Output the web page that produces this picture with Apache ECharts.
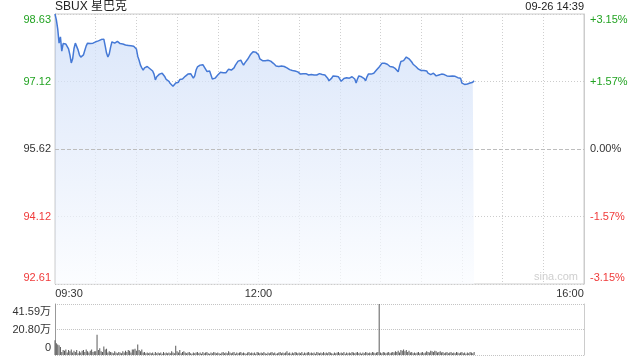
<!DOCTYPE html>
<html>
<head>
<meta charset="utf-8">
<script src="https://cdn.jsdelivr.net/npm/echarts@6/dist/echarts.min.js"></script>
<style>
html,body{margin:0;padding:0;background:#fff;}
#c{width:640px;height:360px;}
</style>
</head>
<body>
<div id="c"></div>
<script>
// ---- data ----
const stockTitle = 'SBUX 星巴克';
const stampText = '09-26 14:39';
const prevClose = 95.62;
const priceMin = 92.61;
const priceMax = 98.63;
const priceTickLabels = ['92.61', '94.12', '95.62', '97.12', '98.63'];
const pctTickLabels = ['-3.15%', '-1.57%', '0.00%', '+1.57%', '+3.15%'];
const timeTickMinutes = [0, 150, 390];
const timeTickLabels = ['09:30', '12:00', '16:00'];
const sessionMinutes = 390;
const volMax = 41.59;
const volTickLabels = ['0', '20.80万', '41.59万'];

// one value per minute from 09:30
const prices = [
 98.63, 98.50, 98.30, 97.98, 98.12, 97.80, 97.97, 97.95, 97.96, 97.94,
 97.85, 97.72, 97.54, 97.63, 97.86, 97.98, 98.01, 97.83, 97.72, 97.67,
 97.69, 97.72, 97.82, 97.92, 97.98, 97.99, 97.97, 97.96, 97.98, 97.99,
 98.01, 98.05, 98.03, 98.05, 98.06, 98.08, 98.07, 97.92, 97.76, 97.67,
 97.74, 97.89, 98.01, 98.01, 97.98, 97.97, 98.02, 97.98, 97.97, 97.99,
 97.96, 97.95, 97.94, 97.94, 97.93, 97.92, 97.92, 97.91, 97.91, 97.88,
 97.85, 97.69, 97.60, 97.49, 97.43, 97.38, 97.43, 97.45, 97.46, 97.47,
 97.41, 97.38, 97.36, 97.29, 97.16, 97.23, 97.27, 97.29, 97.31, 97.31,
 97.30, 97.23, 97.17, 97.16, 97.13, 97.08, 97.06, 97.02, 97.02, 97.09,
 97.13, 97.11, 97.17, 97.16, 97.18, 97.20, 97.24, 97.27, 97.29, 97.29,
 97.30, 97.29, 97.20, 97.25, 97.38, 97.45, 97.47, 97.49, 97.49, 97.50,
 97.46, 97.40, 97.35, 97.35, 97.36, 97.27, 97.18, 97.19, 97.20, 97.23,
 97.27, 97.31, 97.33, 97.33, 97.32, 97.32, 97.32, 97.36, 97.40, 97.41,
 97.38, 97.35, 97.43, 97.49, 97.53, 97.58, 97.62, 97.60, 97.54, 97.49,
 97.54, 97.58, 97.62, 97.67, 97.72, 97.76, 97.79, 97.76, 97.78, 97.82,
 97.72, 97.63, 97.60, 97.59, 97.59, 97.59, 97.60, 97.60, 97.60, 97.58,
 97.55, 97.53, 97.50, 97.47, 97.45, 97.46, 97.47, 97.47, 97.46, 97.46,
 97.45, 97.43, 97.40, 97.39, 97.38, 97.37, 97.37, 97.36, 97.34, 97.34,
 97.31, 97.29, 97.30, 97.30, 97.31, 97.30, 97.28, 97.27, 97.27, 97.28,
 97.27, 97.27, 97.26, 97.27, 97.29, 97.30, 97.30, 97.28, 97.29, 97.27,
 97.24, 97.20, 97.14, 97.13, 97.20, 97.25, 97.24, 97.24, 97.23, 97.23,
 97.18, 97.13, 97.16, 97.19, 97.21, 97.21, 97.20, 97.20, 97.21, 97.23,
 97.23, 97.18, 97.09, 97.18, 97.25, 97.24, 97.23, 97.22, 97.19, 97.14,
 97.23, 97.29, 97.28, 97.29, 97.30, 97.31, 97.35, 97.38, 97.41, 97.45,
 97.49, 97.53, 97.54, 97.53, 97.51, 97.51, 97.48, 97.46, 97.45, 97.45,
 97.44, 97.41, 97.39, 97.34, 97.47, 97.57, 97.58, 97.59, 97.63, 97.67,
 97.67, 97.63, 97.59, 97.56, 97.51, 97.48, 97.46, 97.43, 97.40, 97.38,
 97.37, 97.37, 97.37, 97.38, 97.36, 97.31, 97.27, 97.28, 97.29, 97.31,
 97.28, 97.25, 97.26, 97.27, 97.28, 97.29, 97.29, 97.28, 97.26, 97.25,
 97.23, 97.24, 97.25, 97.25, 97.25, 97.24, 97.23, 97.21, 97.21, 97.20,
 97.09, 97.06, 97.06, 97.06, 97.07, 97.08, 97.09, 97.09, 97.11, 97.14
];

// volume per minute, in 万
const volumes = [
 12.0, 9.5, 8.5, 8.0, 6.5, 2.5, 4.0, 3.5, 4.5, 2.0,
 4.0, 3.0, 4.5, 2.0, 3.5, 2.5, 4.0, 1.5, 3.0, 2.0,
 3.5, 4.0, 2.5, 4.5, 3.0, 2.0, 3.5, 4.5, 2.5, 3.0,
 3.0, 16.5, 4.0, 5.5, 3.0, 2.5, 7.0, 4.5, 5.0, 2.0,
 3.0, 2.5, 2.0, 1.5, 3.0, 2.0, 1.5, 2.5, 2.0, 1.5,
 3.0, 2.0, 3.5, 2.5, 4.0, 3.5, 2.0, 4.5, 4.5, 5.0,
 3.5, 8.5, 4.0, 3.0, 4.5, 2.0, 2.5, 1.5, 2.0, 1.5,
 2.0, 1.5, 2.0, 1.0, 2.5, 1.5, 2.0, 1.5, 2.0, 1.0,
 2.5, 1.5, 2.0, 1.5, 2.0, 1.5, 3.0, 2.0, 1.5, 7.5,
 3.0, 2.0, 4.0, 1.5, 2.5, 3.0, 2.0, 1.5, 2.0, 2.5,
 1.5, 1.0, 2.0, 1.5, 2.0, 2.5, 1.5, 2.0, 1.0, 2.5,
 1.5, 2.0, 2.5, 1.5, 1.0, 2.0, 1.5, 2.5, 2.0, 1.5,
 2.0, 1.5, 1.0, 2.0, 2.5, 1.5, 2.0, 1.5, 3.0, 2.0,
 1.5, 2.0, 2.5, 1.0, 2.0, 1.5, 2.0, 2.5, 1.5, 2.0,
 1.5, 1.0, 2.0, 2.5, 1.5, 2.0, 1.5, 2.0, 1.0, 2.5,
 2.0, 1.5, 2.0, 1.5, 2.5, 1.5, 1.0, 2.0, 1.5, 2.0,
 2.5, 1.5, 2.0, 1.0, 1.5, 2.0, 2.5, 1.5, 2.0, 1.5,
 2.0, 3.0, 1.5, 2.0, 1.0, 2.0, 1.5, 2.5, 2.0, 1.5,
 2.0, 1.5, 2.5, 1.0, 2.0, 1.5, 2.0, 2.5, 1.5, 2.0,
 1.5, 2.0, 1.0, 2.5, 2.0, 1.5, 2.0, 1.5, 2.5, 1.5,
 2.0, 1.5, 2.5, 2.0, 1.5, 1.0, 2.0, 1.5, 2.0, 2.5,
 1.5, 2.0, 1.5, 2.5, 1.0, 2.0, 1.5, 2.0, 1.5, 2.5,
 2.0, 1.5, 2.0, 2.5, 1.5, 2.0, 1.0, 2.0, 1.5, 2.5,
 2.0, 1.5, 2.0, 1.5, 2.5, 2.0, 1.5, 2.0, 2.5, 41.59,
 2.0, 1.5, 2.5, 2.0, 1.5, 2.0, 2.5, 1.5, 2.0, 2.5,
 2.0, 3.0, 2.5, 3.5, 2.0, 4.0, 3.5, 4.5, 3.0, 4.0,
 2.5, 3.5, 2.0, 2.5, 1.5, 2.0, 1.5, 2.0, 2.5, 1.5,
 2.0, 2.5, 1.5, 2.0, 3.0, 2.5, 2.0, 3.5, 3.0, 2.5,
 3.5, 3.0, 2.0, 2.5, 3.0, 2.0, 2.5, 1.5, 2.0, 2.5,
 1.5, 2.0, 2.5, 1.5, 2.0, 1.5, 2.5, 2.0, 1.5, 2.0,
 2.5, 1.5, 2.0, 1.0, 2.0, 1.5, 2.5, 2.0, 1.5, 2.5
];

// ---- chart ----
const FONT = 'Arial, "Liberation Sans", "Noto Sans CJK SC", sans-serif';
const GREEN = '#22a322';
const RED = '#f03a3a';
const DARK = '#333333';
const base = {fontSize: 11, fontFamily: FONT};
const priceStyles = ['rb', 'r', 'k', 'g', 'gt'];
const richPrice = {
  rb: Object.assign({color: RED, padding: [0, 0, 12, 0]}, base),
  r: Object.assign({color: RED}, base),
  k: Object.assign({color: DARK}, base),
  g: Object.assign({color: GREEN}, base),
  gt: Object.assign({color: GREEN, padding: [12, 0, 0, 0]}, base)
};
const volStyles = ['vb', 'vm', 'vt'];
const richVol = {
  vb: Object.assign({color: DARK, padding: [0, 0, 14, 0]}, base),
  vm: Object.assign({color: DARK}, base),
  vt: Object.assign({color: DARK, padding: [16, 0, 0, 0]}, base)
};
const timeStyles = ['tl', 'tc', 'tr'];
const richTime = {
  tl: Object.assign({color: DARK, padding: [0, 0, 0, 28]}, base),
  tc: Object.assign({color: DARK}, base),
  tr: Object.assign({color: DARK, padding: [0, 28, 0, 0]}, base)
};

const chart = echarts.init(document.getElementById('c'), null, {renderer: 'canvas'});
const priceInterval = (priceMax - priceMin) / (priceTickLabels.length - 1);
const volInterval = volMax / (volTickLabels.length - 1);

chart.setOption({
  animation: false,
  backgroundColor: '#ffffff',
  title: [
    {text: stockTitle, left: 55, top: 1, padding: 0,
     textStyle: {fontSize: 12, fontWeight: 'normal', color: '#222', fontFamily: FONT}},
    {text: stampText, right: 56, top: 1, padding: 0,
     textStyle: {fontSize: 11, fontWeight: 'normal', color: '#222', fontFamily: FONT}}
  ],
  graphic: [
    {type: 'text', right: 62, top: 271, silent: true,
     style: {text: 'sina.com', fill: '#cfcfcf', fontSize: 11, fontFamily: FONT}}
  ],
  grid: [
    {left: 55, right: 56, top: 14, height: 270, show: true, borderColor: '#cccccc', borderWidth: 1, containLabel: false},
    {left: 55, right: 56, top: 304, height: 51, containLabel: false}
  ],
  xAxis: [
    {type: 'value', gridIndex: 0, min: 0, max: sessionMinutes, interval: 30,
     axisLine: {show: false}, axisTick: {show: false},
     splitLine: {show: true, lineStyle: {color: '#cfcfcf', type: [1, 2], width: 1}},
     axisLabel: {margin: 4, rich: richTime,
       formatter: function (v) {
         const k = timeTickMinutes.indexOf(Math.round(v));
         return k < 0 ? '' : '{' + timeStyles[k] + '|' + timeTickLabels[k] + '}';
       }}},
    {type: 'value', gridIndex: 1, min: 0, max: sessionMinutes,
     axisLine: {show: false}, axisTick: {show: false}, axisLabel: {show: false}, splitLine: {show: false}}
  ],
  yAxis: [
    {type: 'value', gridIndex: 0, min: priceMin, max: priceMax, interval: priceInterval, position: 'left',
     axisLine: {show: true, lineStyle: {color: '#aaaaaa'}}, axisTick: {show: false},
     splitLine: {show: true, lineStyle: {color: '#cccccc', type: [1, 2]}},
     axisLabel: {margin: 4, rich: richPrice,
       formatter: function (v, i) { return '{' + priceStyles[i] + '|' + priceTickLabels[i] + '}'; }}},
    {type: 'value', gridIndex: 0, min: priceMin, max: priceMax, interval: priceInterval, position: 'right',
     axisLine: {show: true, lineStyle: {color: '#cccccc'}}, axisTick: {show: false},
     splitLine: {show: false},
     axisLabel: {margin: 6, rich: richPrice,
       formatter: function (v, i) { return '{' + priceStyles[i] + '|' + pctTickLabels[i] + '}'; }}},
    {type: 'value', gridIndex: 1, min: 0, max: volMax, interval: volInterval, position: 'left',
     axisLine: {show: true, lineStyle: {color: '#999999'}}, axisTick: {show: false},
     splitLine: {show: true, lineStyle: {color: '#c4c4c4', type: [1, 1]}},
     axisLabel: {margin: 4, rich: richVol,
       formatter: function (v, i) { return '{' + volStyles[i] + '|' + volTickLabels[i] + '}'; }}},
    {type: 'value', gridIndex: 1, min: 0, max: volMax, position: 'right',
     axisLine: {show: true, lineStyle: {color: '#cccccc'}}, axisTick: {show: false},
     axisLabel: {show: false}, splitLine: {show: false}}
  ],
  series: [
    {type: 'line', xAxisIndex: 0, yAxisIndex: 0,
     data: prices.map(function (p, i) { return [i, p]; }),
     showSymbol: false, symbol: 'none', smooth: false,
     lineStyle: {color: '#4579d6', width: 1.5},
     areaStyle: {origin: 'start', color: new echarts.graphic.LinearGradient(0, 0, 0, 1, [
       {offset: 0, color: 'rgba(203,220,248,1)'},
       {offset: 0.5, color: 'rgba(226,235,251,1)'},
       {offset: 1, color: 'rgba(250,252,255,1)'}
     ])},
     markLine: {silent: true, symbol: 'none', label: {show: false},
       lineStyle: {color: '#bdbdbd', type: [4, 2], width: 1},
       data: [{yAxis: prevClose}]}},
    {type: 'bar', xAxisIndex: 1, yAxisIndex: 2,
     data: volumes.map(function (v, i) { return [i, v]; }),
     barWidth: 1, itemStyle: {color: '#5a5a5a'}}
  ]
});
</script>
</body>
</html>
